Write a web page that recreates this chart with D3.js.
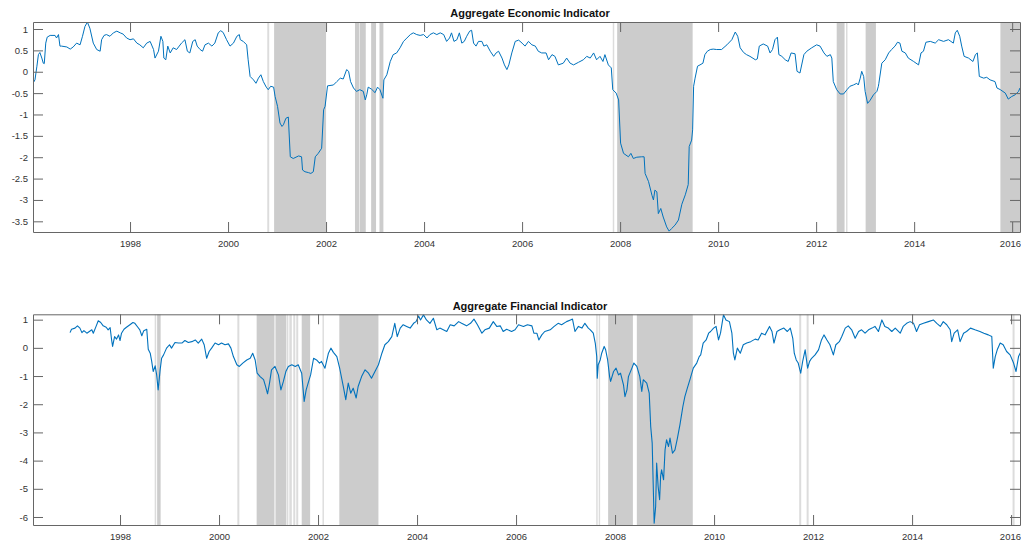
<!DOCTYPE html>
<html>
<head>
<meta charset="utf-8">
<script src="https://cdn.jsdelivr.net/npm/d3@7"></script>
<style>
  html, body { margin: 0; padding: 0; background: #fff; }
  svg { display: block; font-family: "Liberation Sans", Arial, Helvetica, sans-serif; }
  .tick text { fill: #333; font-size: 9.5px; }
  .domain, .tick line { stroke: #666; }
</style>
</head>
<body>
<svg id="chart" width="1021" height="546"></svg>
<script>
// ---------------- DATA ----------------
const xTickYears = [1998, 2000, 2002, 2004, 2006, 2008, 2010, 2012, 2014, 2016];
const econYTicks = [1, 0.5, 0, -0.5, -1, -1.5, -2, -2.5, -3, -3.5];
const finYTicks = [1, 0, -1, -2, -3, -4, -5, -6];

const econTitle = "Aggregate Economic Indicator";
const finTitle = "Aggregate Financial Indicator";

// shaded periods [start, end] in decimal years
const econBands = [
  [2000.80, 2000.84], [2000.94, 2002.00],
  [2002.59, 2002.68], [2002.69, 2002.81], [2002.92, 2003.02], [2003.09, 2003.17],
  [2007.85, 2007.88], [2007.94, 2009.48],
  [2012.42, 2012.58], [2012.61, 2012.64], [2013.01, 2013.22],
  [2015.76, 2016.20]
];
const finBands = [
  [1998.70, 1998.73], [1998.75, 1998.82],
  [2000.37, 2000.41],
  [2000.76, 2001.12], [2001.14, 2001.36], [2001.37, 2001.40], [2001.42, 2001.47],
  [2001.50, 2001.54], [2001.56, 2001.60], [2001.67, 2001.84],
  [2002.09, 2002.11],
  [2002.43, 2003.22],
  [2007.62, 2007.64], [2007.67, 2007.68],
  [2007.86, 2008.36], [2008.44, 2009.57],
  [2011.72, 2011.76], [2011.87, 2011.91],
  [2016.03, 2016.07]
];

const econYears = [
  1996.03,1996.06,1996.10,1996.13,1996.16,1996.20,1996.23,1996.25,1996.28,1996.31,1996.37,1996.47,1996.50,1996.54,1996.57,1996.60,1996.71,1996.78,1996.84,1996.91,1996.98,
  1997.03,1997.08,1997.13,1997.18,1997.25,1997.32,1997.39,1997.42,1997.47,1997.52,1997.59,1997.66,1997.73,1997.80,1997.86,1997.93,
  1998.00,1998.07,1998.14,1998.20,1998.27,1998.34,1998.41,1998.48,1998.51,1998.58,1998.63,1998.67,1998.69,1998.73,1998.77,1998.82,1998.88,1998.95,
  1999.05,1999.12,1999.17,1999.22,1999.28,1999.33,1999.37,1999.43,1999.48,1999.53,1999.60,1999.67,1999.73,1999.80,1999.85,1999.90,1999.97,
  2000.04,2000.11,2000.18,2000.23,2000.25,2000.31,2000.38,2000.41,2000.45,2000.52,2000.57,2000.62,2000.67,2000.72,2000.78,2000.82,2000.87,2000.93,2000.96,
  2001.01,2001.06,2001.10,2001.13,2001.18,2001.23,2001.27,2001.33,2001.44,2001.50,2001.52,2001.57,2001.64,2001.69,2001.74,2001.78,2001.84,2001.91,2001.95,2001.98,
  2002.03,2002.15,2002.22,2002.29,2002.35,2002.42,2002.46,2002.50,2002.56,2002.62,2002.69,2002.76,2002.80,2002.83,2002.86,2002.93,
  2003.00,2003.05,2003.10,2003.16,2003.18,2003.24,2003.31,2003.37,2003.44,2003.51,2003.58,2003.65,2003.72,2003.78,2003.85,2003.92,2003.99,
  2004.06,2004.12,2004.19,2004.26,2004.33,2004.40,2004.46,2004.52,2004.56,2004.61,2004.67,2004.72,2004.77,2004.82,2004.87,2004.93,2004.97,
  2005.01,2005.06,2005.11,2005.18,2005.22,2005.28,2005.35,2005.42,2005.47,2005.52,2005.59,2005.64,2005.69,2005.73,2005.79,2005.86,2005.93,
  2006.00,2006.06,2006.13,2006.20,2006.27,2006.33,2006.40,2006.49,2006.54,2006.61,2006.67,2006.74,2006.84,2006.91,2006.98,
  2007.05,2007.15,2007.25,2007.32,2007.39,2007.46,2007.52,2007.59,2007.65,2007.69,2007.76,2007.82,2007.85,2007.92,2007.97,
  2008.01,2008.07,2008.17,2008.22,2008.27,2008.34,2008.44,2008.49,2008.51,2008.58,2008.65,2008.68,2008.71,2008.75,2008.78,2008.83,2008.88,2008.95,
  2009.00,2009.05,2009.12,2009.19,2009.26,2009.33,2009.39,2009.41,2009.46,2009.48,2009.50,2009.53,2009.58,2009.63,2009.69,2009.73,2009.78,2009.84,2009.90,2009.97,
  2010.07,2010.18,2010.28,2010.35,2010.40,2010.45,2010.52,2010.58,2010.65,2010.76,2010.80,2010.84,2010.92,
  2011.01,2011.06,2011.11,2011.16,2011.21,2011.24,2011.30,2011.37,2011.43,2011.49,2011.57,2011.61,2011.67,2011.75,2011.81,2011.91,
  2012.01,2012.08,2012.16,2012.22,2012.29,2012.32,2012.35,2012.42,2012.49,2012.56,2012.63,2012.69,2012.76,2012.83,2012.86,2012.90,2012.93,2012.97,
  2013.00,2013.05,2013.10,2013.17,2013.24,2013.27,2013.28,2013.34,2013.41,2013.48,2013.54,2013.61,2013.66,2013.71,2013.75,2013.82,2013.88,2013.99,
  2014.09,2014.14,2014.19,2014.24,2014.33,2014.43,2014.50,2014.60,2014.70,2014.75,2014.80,2014.84,2014.88,2014.93,2014.97,
  2015.02,2015.11,2015.20,2015.25,2015.29,2015.33,2015.42,2015.48,2015.55,2015.65,2015.69,2015.76,2015.86,2015.92,2015.99,
  2016.06,2016.13,2016.16
];
const econValues = [
  -0.25,-0.19,0.13,0.40,0.45,0.32,0.20,0.19,0.67,0.81,0.85,0.85,0.79,0.87,0.60,0.60,0.58,0.53,0.58,0.67,0.63,
  0.83,1.06,1.16,1.02,0.67,0.52,0.48,0.75,0.85,0.87,0.83,0.91,0.95,0.91,0.88,0.79,
  0.75,0.77,0.67,0.63,0.56,0.67,0.71,0.52,0.32,0.48,0.83,0.71,0.32,0.28,0.60,0.44,0.56,0.52,
  0.67,0.75,0.48,0.44,0.71,0.75,0.60,0.52,0.48,0.63,0.67,0.60,0.67,0.91,0.96,0.92,0.75,
  0.60,0.67,0.83,0.87,0.75,0.71,0.63,0.28,-0.11,-0.19,-0.27,-0.15,-0.07,-0.23,-0.36,-0.42,-0.34,-0.36,-0.58,
  -0.81,-1.20,-1.28,-1.24,-1.09,-1.06,-1.99,-2.03,-1.97,-1.99,-2.30,-2.34,-2.36,-2.38,-2.34,-1.99,-1.91,-1.79,-0.89,-0.81,
  -0.33,-0.31,-0.23,-0.15,-0.17,0.05,0.01,-0.23,-0.38,-0.46,-0.42,-0.46,-0.66,-0.54,-0.36,-0.41,
  -0.49,-0.36,-0.42,-0.62,-0.19,-0.07,0.24,0.40,0.44,0.56,0.71,0.79,0.87,0.91,0.87,0.85,0.87,
  0.79,0.87,0.91,0.87,0.91,0.87,0.71,0.79,0.91,0.71,0.75,0.91,0.67,0.71,0.83,0.95,0.97,
  0.67,0.60,0.71,0.71,0.60,0.63,0.48,0.36,0.44,0.48,0.32,0.16,0.05,0.16,0.44,0.71,0.74,
  0.67,0.60,0.71,0.63,0.60,0.48,0.44,0.44,0.28,0.40,0.36,0.16,0.20,0.32,0.20,
  0.16,0.22,0.28,0.36,0.32,0.44,0.28,0.36,0.24,0.40,0.16,0.09,-0.42,-0.50,-0.66,
  -1.67,-1.91,-1.99,-1.91,-2.03,-2.00,-1.99,-1.99,-2.38,-2.57,-2.89,-3.00,-2.77,-2.81,-3.32,-3.20,-3.40,-3.63,
  -3.73,-3.67,-3.59,-3.47,-3.10,-2.88,-2.64,-1.75,-1.60,-1.36,-0.34,-0.15,0.13,0.16,0.20,0.40,0.48,0.52,0.53,0.52,
  0.52,0.63,0.75,0.93,0.83,0.56,0.45,0.40,0.36,0.28,0.30,0.60,0.65,
  0.60,0.44,0.52,0.75,0.81,0.40,0.36,0.28,0.24,0.44,0.42,0.01,-0.03,0.40,0.48,0.56,
  0.63,0.60,0.44,0.36,0.40,0.32,-0.23,-0.42,-0.52,-0.52,-0.42,-0.34,-0.31,-0.27,-0.31,-0.15,0.01,-0.11,
  -0.46,-0.74,-0.67,-0.54,-0.46,-0.34,-0.27,0.20,0.28,0.44,0.52,0.60,0.69,0.67,0.48,0.44,0.32,0.24,
  0.16,0.44,0.48,0.69,0.71,0.67,0.75,0.71,0.75,0.71,0.67,0.91,0.97,0.83,0.60,
  0.36,0.32,0.24,0.40,0.44,-0.11,-0.15,-0.13,-0.19,-0.23,-0.38,-0.42,-0.50,-0.64,-0.58,
  -0.54,-0.46,-0.38
];

const finYears = [
  1996.99,1997.02,1997.09,1997.14,1997.19,1997.23,1997.27,1997.33,1997.38,1997.43,1997.46,1997.52,1997.56,1997.61,1997.66,1997.72,1997.76,1997.80,1997.83,1997.85,1997.89,1997.93,1997.97,
  1998.00,1998.03,1998.08,1998.13,1998.20,1998.26,1998.30,1998.36,1998.40,1998.44,1998.48,1998.54,1998.57,1998.61,1998.64,1998.67,1998.71,1998.74,1998.77,1998.81,1998.84,1998.88,1998.94,
  1999.00,1999.04,1999.11,1999.18,1999.25,1999.31,1999.38,1999.45,1999.52,1999.58,1999.65,1999.70,1999.75,1999.80,1999.85,1999.92,1999.99,
  2000.05,2000.12,2000.19,2000.24,2000.29,2000.36,2000.41,2000.48,2000.56,2000.63,2000.68,2000.73,2000.77,2000.83,2000.90,2000.94,2000.98,
  2001.02,2001.06,2001.13,2001.20,2001.25,2001.30,2001.35,2001.40,2001.47,2001.54,2001.60,2001.67,2001.72,2001.76,2001.80,2001.85,2001.91,2001.97,
  2002.03,2002.07,2002.14,2002.21,2002.26,2002.31,2002.38,2002.44,2002.51,2002.56,2002.61,2002.66,2002.71,2002.77,2002.81,2002.88,2002.95,
  2003.02,2003.08,2003.15,2003.22,2003.29,2003.35,2003.42,2003.49,2003.55,2003.60,2003.66,2003.72,2003.79,2003.86,2003.93,2003.98,
  2004.03,2004.07,2004.13,2004.19,2004.26,2004.33,2004.40,2004.46,2004.53,2004.60,2004.67,2004.75,2004.84,2004.90,
  2005.00,2005.08,2005.15,2005.22,2005.31,2005.37,2005.46,2005.54,2005.61,2005.68,2005.74,2005.81,2005.91,2005.98,
  2006.05,2006.15,2006.23,2006.32,2006.36,2006.42,2006.46,2006.52,2006.58,2006.69,2006.77,2006.85,2006.92,
  2007.02,2007.10,2007.14,2007.19,2007.26,2007.33,2007.39,2007.46,
  2007.50,2007.56,2007.60,2007.63,2007.64,2007.66,2007.70,2007.73,2007.78,2007.81,2007.85,2007.89,2007.91,2007.97,
  2008.02,2008.07,2008.11,2008.17,2008.20,2008.24,2008.27,2008.34,2008.38,2008.44,2008.50,2008.54,2008.57,2008.64,2008.69,2008.72,2008.75,2008.77,2008.79,2008.82,2008.84,2008.87,2008.90,2008.92,2008.94,2008.98,
  2009.01,2009.04,2009.08,2009.11,2009.16,2009.21,2009.26,2009.31,2009.37,2009.41,2009.46,2009.52,2009.58,2009.65,2009.70,
  2009.73,2009.78,2009.84,2009.89,2009.93,2009.99,
  2010.04,2010.09,2010.13,2010.19,2010.24,2010.31,2010.36,2010.39,2010.42,2010.47,2010.53,2010.59,2010.66,2010.74,2010.83,2010.89,2010.96,
  2011.03,2011.12,2011.17,2011.21,2011.27,2011.33,2011.41,2011.48,2011.54,2011.59,2011.62,2011.66,2011.70,2011.75,2011.79,2011.84,2011.89,2011.93,2011.97,
  2012.04,2012.11,2012.17,2012.22,2012.28,2012.34,2012.41,2012.46,2012.53,2012.58,2012.65,2012.71,2012.78,2012.85,2012.92,2012.98,
  2013.05,2013.12,2013.19,2013.25,2013.32,2013.39,2013.45,2013.52,2013.59,2013.66,2013.76,2013.82,2013.89,2013.96,
  2014.03,2014.09,2014.15,2014.23,2014.33,2014.43,2014.50,2014.57,2014.63,2014.70,2014.77,2014.80,2014.85,2014.92,2014.97,
  2015.04,2015.10,2015.18,2015.27,2015.37,2015.45,2015.54,2015.61,2015.64,2015.68,2015.72,2015.78,2015.84,2015.91,2015.98,
  2016.05,2016.10,2016.15,2016.20
];
const finValues = [
  0.54,0.66,0.70,0.78,0.70,0.54,0.61,0.52,0.58,0.64,0.52,0.78,0.96,0.90,0.78,0.73,0.64,0.72,0.28,0.05,0.40,0.31,0.46,
  0.26,0.52,0.66,0.73,0.82,0.90,0.87,0.73,0.64,0.43,0.61,0.66,-0.05,-0.19,-0.48,-0.84,-0.64,-0.96,-1.49,-0.78,-0.37,-0.25,-0.01,
  0.11,-0.01,0.19,0.17,0.17,0.26,0.19,0.22,0.28,0.17,0.31,0.11,-0.37,-0.13,-0.01,0.17,0.11,
  0.17,0.11,0.14,-0.01,-0.31,-0.60,-0.66,-0.54,-0.43,-0.37,-0.19,-0.43,-0.90,-1.02,-1.13,-1.37,-1.63,
  -1.25,-0.78,-0.66,-0.96,-1.49,-1.19,-0.84,-0.66,-0.60,-0.66,-0.60,-0.90,-1.90,-1.49,-1.25,-0.96,-0.37,-0.43,
  -0.54,-0.48,-0.72,-0.19,-0.01,-0.16,-0.31,-0.75,-1.37,-1.84,-1.25,-1.61,-1.43,-1.78,-1.37,-1.02,-0.78,
  -0.90,-1.08,-0.84,-0.60,-0.19,0.11,0.22,0.40,0.87,0.40,0.70,0.82,0.76,0.70,0.87,0.93,
  1.13,0.99,1.17,0.99,0.87,1.05,0.64,0.70,0.64,0.58,0.82,0.78,0.93,0.87,
  0.78,0.87,1.02,0.82,0.52,0.64,0.70,0.93,0.76,0.78,0.58,0.66,0.58,0.64,
  0.82,0.76,0.82,0.78,0.52,0.52,0.28,0.46,0.58,0.64,0.76,0.87,0.82,
  0.93,0.99,1.02,0.58,0.76,0.70,0.87,0.70,
  0.64,0.52,0.17,-0.31,-1.08,-0.60,-0.43,-0.19,0.05,-0.07,-0.43,-1.02,-1.19,-0.84,
  -0.72,-0.96,-0.90,-1.31,-1.73,-1.49,-1.02,-0.72,-0.54,-0.66,-1.02,-1.55,-1.13,-1.25,-1.61,-2.79,-3.38,-4.80,-6.22,-5.63,-4.09,-4.92,-5.39,-4.56,-4.33,-4.68,
  -3.62,-3.26,-3.50,-3.20,-3.74,-3.62,-3.20,-2.73,-2.08,-1.73,-1.43,-1.08,-0.72,-0.54,-0.31,
  -0.25,0.17,0.28,0.52,0.58,0.70,
  0.76,0.28,0.52,1.17,0.99,0.93,0.52,-0.19,-0.43,-0.01,-0.19,0.11,0.17,0.22,0.31,0.28,0.52,
  0.46,0.76,0.58,0.17,0.58,0.64,0.70,0.58,0.70,0.34,-0.19,-0.43,-0.54,-0.90,-0.48,-0.07,-0.72,-0.48,-0.37,
  -0.25,-0.07,0.28,0.46,0.28,0.11,-0.25,0.11,0.22,0.40,0.70,0.78,0.64,0.34,0.58,0.64,
  0.52,0.64,0.70,0.76,0.58,0.99,0.76,0.70,0.58,0.70,0.52,0.76,0.87,0.93,
  0.87,0.58,0.82,0.87,0.93,0.99,0.87,0.76,0.93,0.82,0.64,0.22,0.52,0.64,0.22,
  0.52,0.58,0.70,0.64,0.58,0.52,0.46,0.40,-0.72,-0.31,-0.07,0.17,0.11,-0.13,-0.25,
  -0.54,-0.84,-0.31,-0.13
];

// ---------------- DRAW ----------------
const svg = d3.select("#chart");
const W = 1021;
const fmt = v => String(v).replace("\u2212", "-");

function panel(cfg) {
  const { left, right, top, bottom, xDomain, yDomain, years, values, bands, yTicks, title, titleY, titleX, id } = cfg;
  const x = d3.scaleLinear().domain(xDomain).range([left, right]);
  const y = d3.scaleLinear().domain(yDomain).range([bottom, top]);
  const g = svg.append("g");

  g.append("clipPath").attr("id", id).append("rect")
    .attr("x", left).attr("y", top).attr("width", right - left).attr("height", bottom - top);

  // shaded periods
  g.append("g").attr("clip-path", `url(#${id})`)
    .selectAll("rect").data(bands).join("rect")
    .attr("x", d => x(d[0]))
    .attr("y", top)
    .attr("width", d => Math.max(1.4, x(d[1]) - x(d[0])))
    .attr("height", bottom - top)
    .attr("fill", d => (x(d[1]) - x(d[0]) < 2.5) ? "#dcdcdc" : "#cccccc");

  // series line
  const pts = years.map((yr, i) => [yr, values[i]]);
  g.append("path")
    .attr("clip-path", `url(#${id})`)
    .datum(pts)
    .attr("fill", "none")
    .attr("stroke", "#0072BD")
    .attr("stroke-width", cfg.lineWidth)
    .attr("stroke-linejoin", "round")
    .attr("d", d3.line().x(d => x(d[0])).y(d => y(d[1])));

  // axes (ticks inside, box)
  const xb = g.append("g").attr("transform", `translate(0,${bottom})`)
    .call(d3.axisBottom(x).tickValues(xTickYears).tickFormat(d3.format("d")).tickSizeInner(-10).tickSizeOuter(0).tickPadding(8));
  g.append("g").attr("transform", `translate(0,${top})`)
    .call(d3.axisTop(x).tickValues(xTickYears).tickFormat("").tickSizeInner(-10).tickSizeOuter(0));
  g.append("g").attr("transform", `translate(${left},0)`)
    .call(d3.axisLeft(y).tickValues(yTicks).tickFormat(fmt).tickSizeInner(-10).tickSizeOuter(0).tickPadding(5));
  g.append("g").attr("transform", `translate(${right},0)`)
    .call(d3.axisRight(y).tickValues(yTicks).tickFormat("").tickSizeInner(-10).tickSizeOuter(0));

  g.selectAll(".tick text").attr("font-family", null).attr("font-size", null);

  // keep edge labels inside the page
  xb.selectAll(".tick").each(function(d) {
    const t = d3.select(this).select("text");
    const bb = t.node().getBBox();
    const cx = x(d);
    const overflow = cx + bb.width / 2 - (W - 0.5);
    if (overflow > 0) t.attr("x", -overflow);
  });

  g.append("text")
    .attr("x", titleX).attr("y", titleY)
    .attr("text-anchor", "middle")
    .attr("font-weight", "bold")
    .attr("font-size", "11px")
    .attr("fill", "#111")
    .text(title);
}

panel({
  id: "clipEcon", left: 33, right: 1020, top: 22, bottom: 232,
  xDomain: [1996.02, 2016.16], yDomain: [-3.75, 1.164],
  years: econYears, values: econValues, bands: econBands, yTicks: econYTicks,
  title: econTitle, titleX: 530, titleY: 16.5, lineWidth: 1
});
panel({
  id: "clipFin", left: 33, right: 1020, top: 314.3, bottom: 525,
  xDomain: [1996.242, 2016.18], yDomain: [-6.284, 1.19],
  years: finYears, values: finValues, bands: finBands, yTicks: finYTicks,
  title: finTitle, titleX: 530, titleY: 309.5, lineWidth: 1.1
});
</script>
</body>
</html>
